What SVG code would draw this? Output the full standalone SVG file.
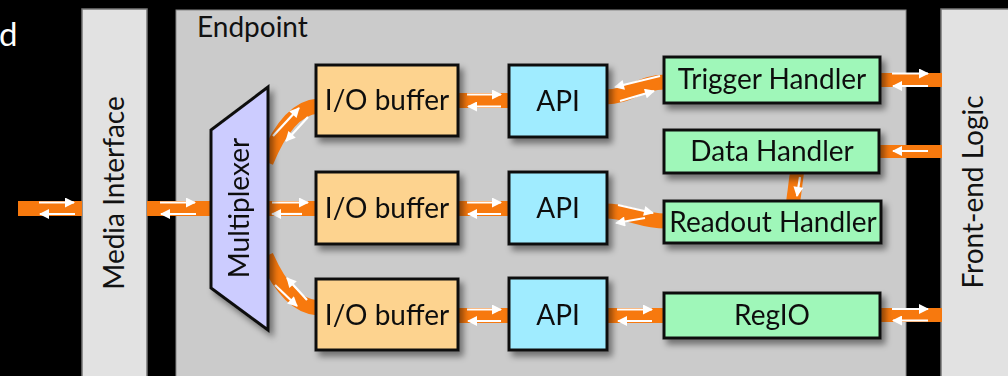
<svg xmlns="http://www.w3.org/2000/svg" width="1008" height="376" viewBox="0 0 1008 376">
  <style>
    .lbl { font-family: Lato, "Open Sans", "Liberation Sans", sans-serif; font-size: 28px; fill: #111; }
    .box { stroke: #111; stroke-width: 3; }
    .io { fill: #fdd38f; }
    .api { fill: #a0ecff; }
    .hnd { fill: #9ff7b9; }
    .side { fill: #e2e2e2; stroke: #777; stroke-width: 1.5; }
    .band { fill: none; stroke: #f7790e; stroke-width: 15; }
    .bandr { fill: #f7790e; }
    .wa { stroke: #fff; stroke-width: 2.2; fill: none; marker-end: url(#ah); }
  </style>
  <defs>
    <marker id="ah" viewBox="0 0 10 10" refX="9" refY="5" markerWidth="11" markerHeight="10" markerUnits="userSpaceOnUse" orient="auto">
      <path d="M0,0 L10,5 L0,10 z" fill="#fff"/>
    </marker>
    <filter id="sh" x="-20%" y="-20%" width="150%" height="160%">
      <feDropShadow dx="4" dy="5" stdDeviation="3" flood-color="#000" flood-opacity="0.45"/>
    </filter>
  </defs>

  <rect width="1008" height="376" fill="#000"/>
  <text x="-1" y="46" class="lbl" style="fill:#fff;font-size:33px">d</text>

  <!-- outer blocks -->
  <g id="media-interface">
    <rect class="side" x="82" y="9" width="65" height="380"/>
    <text class="lbl" text-anchor="middle" transform="translate(124,193) rotate(-90)">Media Interface</text>
  </g>
  <g id="endpoint">
    <rect x="176" y="10" width="730" height="380" fill="#cbcbcb" stroke="#888" stroke-width="1"/>
    <text x="197" y="37" class="lbl">Endpoint</text>
  </g>
  <g id="front-end-logic">
    <rect class="side" x="941" y="9" width="80" height="380"/>
    <text class="lbl" text-anchor="middle" transform="translate(983,192) rotate(-90)">Front-end Logic</text>
  </g>

  <!-- connectors -->
  <g id="connectors">
    <!-- outside link and media interface to multiplexer -->
    <rect class="bandr" x="18" y="201" width="64" height="15"/>
    <line class="wa" x1="39" y1="202.5" x2="74" y2="202.5"/>
    <line class="wa" x1="75" y1="214" x2="40" y2="214"/>
    <rect class="bandr" x="147" y="201" width="66" height="15"/>
    <line class="wa" x1="160" y1="202.5" x2="195" y2="202.5"/>
    <line class="wa" x1="196" y1="214" x2="161" y2="214"/>

    <!-- multiplexer to I/O buffers -->
    <path class="band" d="M266,162 Q288,108 318,106"/>
    <line class="wa" x1="273" y1="136" x2="299" y2="108"/>
    <line class="wa" x1="308" y1="117" x2="286" y2="141"/>
    <rect class="bandr" x="266" y="201" width="52" height="15"/>
    <line class="wa" x1="272" y1="202.5" x2="308" y2="202.5"/>
    <line class="wa" x1="302" y1="214" x2="272" y2="214"/>
    <path class="band" d="M266,256 Q288,306 318,308"/>
    <line class="wa" x1="307" y1="300" x2="287" y2="278"/>
    <line class="wa" x1="275" y1="285" x2="297" y2="306"/>

    <!-- I/O buffers to APIs -->
    <rect class="bandr" x="456" y="93" width="55" height="15"/>
    <line class="wa" x1="467" y1="94.5" x2="501" y2="94.5"/>
    <line class="wa" x1="501" y1="106.5" x2="468" y2="106.5"/>
    <rect class="bandr" x="456" y="201" width="55" height="15"/>
    <line class="wa" x1="467" y1="202.5" x2="501" y2="202.5"/>
    <line class="wa" x1="501" y1="214" x2="468" y2="214"/>
    <rect class="bandr" x="456" y="308" width="55" height="15"/>
    <line class="wa" x1="467" y1="309.5" x2="501" y2="309.5"/>
    <line class="wa" x1="501" y1="321" x2="468" y2="321"/>

    <!-- APIs to handlers -->
    <path class="band" d="M605,97 C630,97 640,82 665,82"/>
    <line class="wa" x1="660" y1="76" x2="615" y2="87"/>
    <line class="wa" x1="620" y1="101" x2="654" y2="91"/>
    <path class="band" d="M605,211 C630,211 640,221 666,221"/>
    <line class="wa" x1="618" y1="205" x2="653" y2="213"/>
    <line class="wa" x1="645" y1="218" x2="616" y2="223"/>
    <rect class="bandr" x="605" y="308" width="61" height="15"/>
    <line class="wa" x1="617" y1="309.5" x2="652" y2="309.5"/>
    <line class="wa" x1="652" y1="321" x2="618" y2="321"/>

    <!-- data handler to readout handler -->
    <path class="band" d="M797,172 L793,203" style="stroke-width:14"/>
    <line class="wa" x1="800" y1="177" x2="797" y2="196"/>

    <!-- handlers to front-end logic -->
    <rect class="bandr" x="878" y="73" width="64" height="14"/>
    <line class="wa" x1="892" y1="73.5" x2="928" y2="73.5"/>
    <line class="wa" x1="928" y1="86" x2="893" y2="86"/>
    <rect class="bandr" x="877" y="145" width="65" height="13"/>
    <line class="wa" x1="928" y1="151" x2="893" y2="151"/>
    <rect class="bandr" x="878" y="308" width="64" height="14"/>
    <line class="wa" x1="892" y1="309" x2="928" y2="309"/>
    <line class="wa" x1="928" y1="320.5" x2="893" y2="320.5"/>
  </g>

  <!-- multiplexer -->
  <g id="multiplexer" filter="url(#sh)">
    <polygon points="268,87 211,130 211,288 268,330" fill="#ccccff" stroke="#111" stroke-width="3" stroke-linejoin="miter"/>
    <text class="lbl" text-anchor="middle" transform="translate(249,208) rotate(-90)">Multiplexer</text>
  </g>

  <!-- I/O buffers -->
  <g id="io-buffer-1" filter="url(#sh)">
    <rect class="box io" x="316" y="65" width="142" height="71"/>
    <text class="lbl" x="387" y="110" text-anchor="middle">I/O buffer</text>
  </g>
  <g id="io-buffer-2" filter="url(#sh)">
    <rect class="box io" x="316" y="172" width="142" height="72"/>
    <text class="lbl" x="387" y="218" text-anchor="middle">I/O buffer</text>
  </g>
  <g id="io-buffer-3" filter="url(#sh)">
    <rect class="box io" x="316" y="279" width="142" height="71"/>
    <text class="lbl" x="387" y="325" text-anchor="middle">I/O buffer</text>
  </g>

  <!-- APIs -->
  <g id="api-1" filter="url(#sh)">
    <rect class="box api" x="509" y="65" width="98" height="72"/>
    <text class="lbl" x="558" y="111" text-anchor="middle">API</text>
  </g>
  <g id="api-2" filter="url(#sh)">
    <rect class="box api" x="509" y="172" width="98" height="72"/>
    <text class="lbl" x="558" y="218" text-anchor="middle">API</text>
  </g>
  <g id="api-3" filter="url(#sh)">
    <rect class="box api" x="509" y="278" width="98" height="72"/>
    <text class="lbl" x="558" y="325" text-anchor="middle">API</text>
  </g>

  <!-- handlers -->
  <g id="trigger-handler" filter="url(#sh)">
    <rect class="box hnd" x="664" y="57" width="216" height="46"/>
    <text class="lbl" x="772" y="89" text-anchor="middle">Trigger Handler</text>
  </g>
  <g id="data-handler" filter="url(#sh)">
    <rect class="box hnd" x="664" y="130" width="215" height="43"/>
    <text class="lbl" x="772" y="161" text-anchor="middle">Data Handler</text>
  </g>
  <g id="readout-handler" filter="url(#sh)">
    <rect class="box hnd" x="664" y="201" width="217" height="42"/>
    <text class="lbl" x="773" y="232" text-anchor="middle">Readout Handler</text>
  </g>
  <g id="regio" filter="url(#sh)">
    <rect class="box hnd" x="664" y="293" width="216" height="45"/>
    <text class="lbl" x="772" y="325" text-anchor="middle">RegIO</text>
  </g>
</svg>
